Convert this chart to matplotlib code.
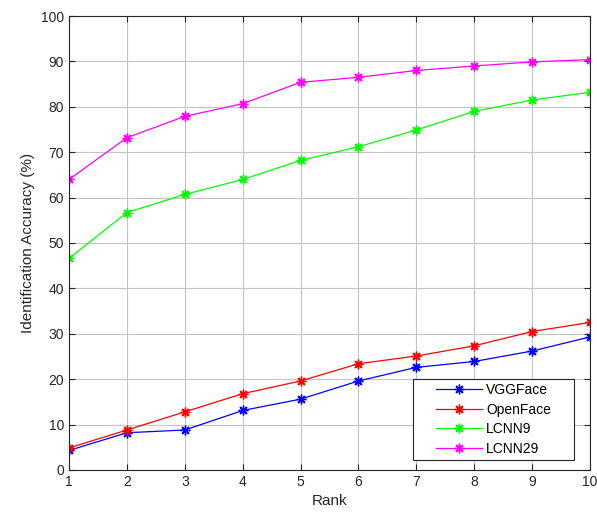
import matplotlib
matplotlib.use("Agg")
import matplotlib.pyplot as plt
from matplotlib.patches import Rectangle

plt.rcParams['font.family'] = ['Liberation Sans', 'DejaVu Sans']

rank = [1, 2, 3, 4, 5, 6, 7, 8, 9, 10]
vggface = [4.3, 8.2, 8.8, 13.1, 15.6, 19.6, 22.6, 23.9, 26.2, 29.3]
openface = [4.85, 8.8, 12.8, 16.8, 19.6, 23.4, 25.1, 27.35, 30.5, 32.5]
lcnn9 = [46.6, 56.7, 60.7, 64.0, 68.2, 71.2, 74.9, 79.0, 81.5, 83.2]
lcnn29 = [64.0, 73.2, 77.9, 80.7, 85.4, 86.5, 88.0, 89.0, 89.9, 90.4]

fig = plt.figure(figsize=(5.97, 5.17), dpi=100)
ax = fig.add_axes([0.1156, 0.091, 0.8727, 0.878])

# matlab style asterisk markers
mk = dict(marker=(8, 2, 0), markersize=7, markeredgewidth=1.0, linewidth=0.9)
ax.plot(rank, vggface, color='#0000ff', label='VGGFace', **mk)
ax.plot(rank, openface, color='#ff0000', label='OpenFace', **mk)
ax.plot(rank, lcnn9, color='#00ff00', label='LCNN9', **mk)
ax.plot(rank, lcnn29, color='#ff00ff', label='LCNN29', **mk)

ax.set_xlim(1, 10)
ax.set_ylim(0, 100)
ax.set_xticks(range(1, 11))
ax.set_yticks(range(0, 101, 10))
ax.grid(True, color='#c4c4c4', linewidth=0.8)
ax.set_axisbelow(True)
ax.tick_params(direction='in', top=True, right=True, labelsize=10, color='#262626', labelcolor='#262626', length=4)
for s in ax.spines.values():
    s.set_color('#262626')
    s.set_linewidth(0.8)

ax.set_xlabel('Rank', fontsize=11, color='#262626')
ax.set_ylabel('Identification Accuracy (%)', fontsize=11, color='#262626')

# legend frame drawn by hand so it can be wider than the entries
box = Rectangle((0.660, 0.022), 0.309, 0.178, transform=ax.transAxes,
                facecolor='white', edgecolor='#262626', linewidth=0.8, zorder=4)
ax.add_patch(box)
leg = ax.legend(loc='center', bbox_to_anchor=(0.8145, 0.111), fontsize=10,
                frameon=False, handlelength=3.3, handletextpad=0.3,
                borderpad=0.2, labelspacing=0.4)
leg.set_zorder(5)

fig.savefig('out.png', dpi=100)
